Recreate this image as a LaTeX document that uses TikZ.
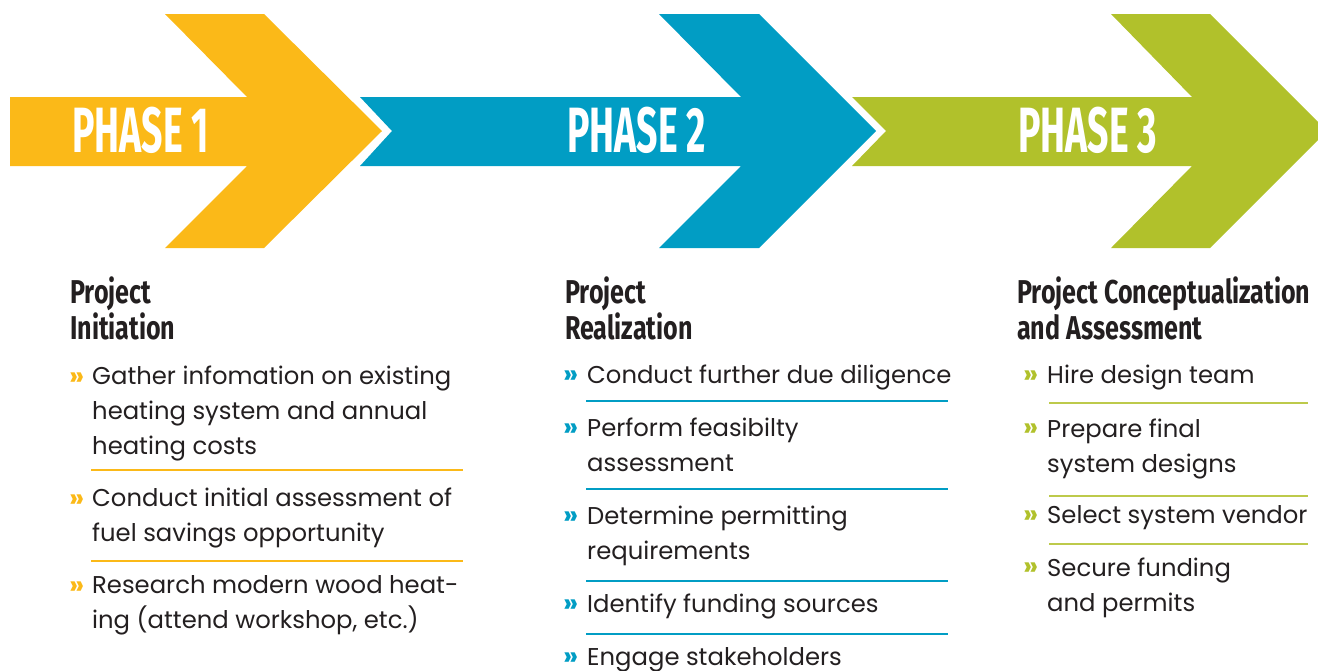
\documentclass[tikz,border=0pt]{standalone}
\usepackage{fontspec}
\usepackage{graphicx}
\setmainfont{Poppins}
\newfontfamily\headfont{Fira Sans}
\definecolor{phaseyellow}{HTML}{FBB918}
\definecolor{phaseblue}{HTML}{019DC4}
\definecolor{phasegreen}{HTML}{B1C12B}
\definecolor{inkdark}{HTML}{231F20}
\newcommand{\narrowit}[2]{\scalebox{#1}[1]{#2}}
\tikzset{
  phaselabel/.style={text=white, inner sep=0pt, anchor=base west,
    font=\headfont\bfseries\fontsize{64}{64}\selectfont},
  heading/.style={text=inkdark, inner sep=0pt, anchor=base west, align=left,
    font=\headfont\bfseries\fontsize{33}{36}\selectfont},
  itemtext/.style={text=inkdark, inner sep=0pt, anchor=base west, align=left,
    font=\fontsize{24.3}{35}\selectfont},
  marker/.style={inner sep=0pt, anchor=base west,
    font=\bfseries\fontsize{27}{35}\selectfont},
  sepline/.style={line width=1.3pt},
}
\begin{document}
\begin{tikzpicture}[x=1pt,y=-1pt]
    \clip (0,0) rectangle (1318,670);
    % phase arrows
    \fill[phaseyellow] (10,97) -- (247,97) -- (165,14) -- (264,14) -- (382,131) -- (264,248) -- (165,248) -- (247,166) -- (10,166) -- cycle;
    \fill[phaseblue] (360,97) -- (741,97) -- (659,14) -- (759,14) -- (876,131) -- (759,248) -- (659,248) -- (741,166) -- (360,166) -- (392,131) -- cycle;
    \fill[phasegreen] (852,97) -- (1192,97) -- (1111,14) -- (1210,14) -- (1327,131) -- (1210,248) -- (1111,248) -- (1192,166) -- (852,166) -- (886,131) -- cycle;
    \node[phaselabel] (p1) at (72,152) {\narrowit{0.585}{PHASE 1}};
    \node[phaselabel] (p2) at (567,152) {\narrowit{0.585}{PHASE 2}};
    \node[phaselabel] (p3) at (1018,152) {\narrowit{0.585}{PHASE 3}};
    % first column (multi-line nodes sit on their last baseline)
    \node[heading] (h1) at (70,339) {\narrowit{0.76}{Project}\\\narrowit{0.76}{Initiation}};
    \node[marker, text=phaseyellow] (ma1) at (69,385) {»};
    \node[itemtext] (a1) at (92,454) {Gather infomation on existing\\heating system and annual\\heating costs};
    \draw[sepline, phaseyellow] (91,470) -- (463,470);
    \node[marker, text=phaseyellow] (ma2) at (69,507) {»};
    \node[itemtext] (a2) at (92,541) {Conduct initial assessment of\\fuel savings opportunity};
    \draw[sepline, phaseyellow] (91,561) -- (463,561);
    \node[marker, text=phaseyellow] (ma3) at (69,594) {»};
    \node[itemtext] (a3) at (92,628) {Research modern wood heat-\\ing (attend workshop, etc.)};
    % second column
    \node[heading] (h2) at (565,339) {\narrowit{0.76}{Project}\\\narrowit{0.76}{Realization}};
    \node[marker, text=phaseblue] (mb1) at (563,383) {»};
    \node[itemtext] (b1) at (587,383) {Conduct further due diligence};
    \draw[sepline, phaseblue] (586,401) -- (948,401);
    \node[marker, text=phaseblue] (mb2) at (563,436) {»};
    \node[itemtext] (b2) at (587,471) {Perform feasibilty\\assessment};
    \draw[sepline, phaseblue] (586,489) -- (948,489);
    \node[marker, text=phaseblue] (mb3) at (563,524) {»};
    \node[itemtext] (b3) at (587,559) {Determine permitting\\requirements};
    \draw[sepline, phaseblue] (586,581) -- (948,581);
    \node[marker, text=phaseblue] (mb4) at (563,612) {»};
    \node[itemtext] (b4) at (587,612) {Identify funding sources};
    \draw[sepline, phaseblue] (586,634) -- (948,634);
    \node[marker, text=phaseblue] (mb5) at (563,665) {»};
    \node[itemtext] (b5) at (587,665) {Engage stakeholders};
    % third column
    \node[heading] (h3) at (1017,339) {\narrowit{0.76}{Project Conceptualization}\\\narrowit{0.76}{and Assessment}};
    \node[marker, text=phasegreen] (mc1) at (1023,383) {»};
    \node[itemtext] (c1) at (1047,383) {Hire design team};
    \draw[sepline, phasegreen!85!white] (1049,403) -- (1308,403);
    \node[marker, text=phasegreen] (mc2) at (1023,436) {»};
    \node[itemtext] (c2) at (1047,472) {Prepare final\\system designs};
    \draw[sepline, phasegreen!85!white] (1049,496) -- (1308,496);
    \node[marker, text=phasegreen] (mc3) at (1023,523) {»};
    \node[itemtext] (c3) at (1047,523) {Select system vendor};
    \draw[sepline, phasegreen!85!white] (1049,544) -- (1308,544);
    \node[marker, text=phasegreen] (mc4) at (1023,575) {»};
    \node[itemtext] (c4) at (1047,611) {Secure funding\\and permits};
  \end{tikzpicture}
\end{document}
